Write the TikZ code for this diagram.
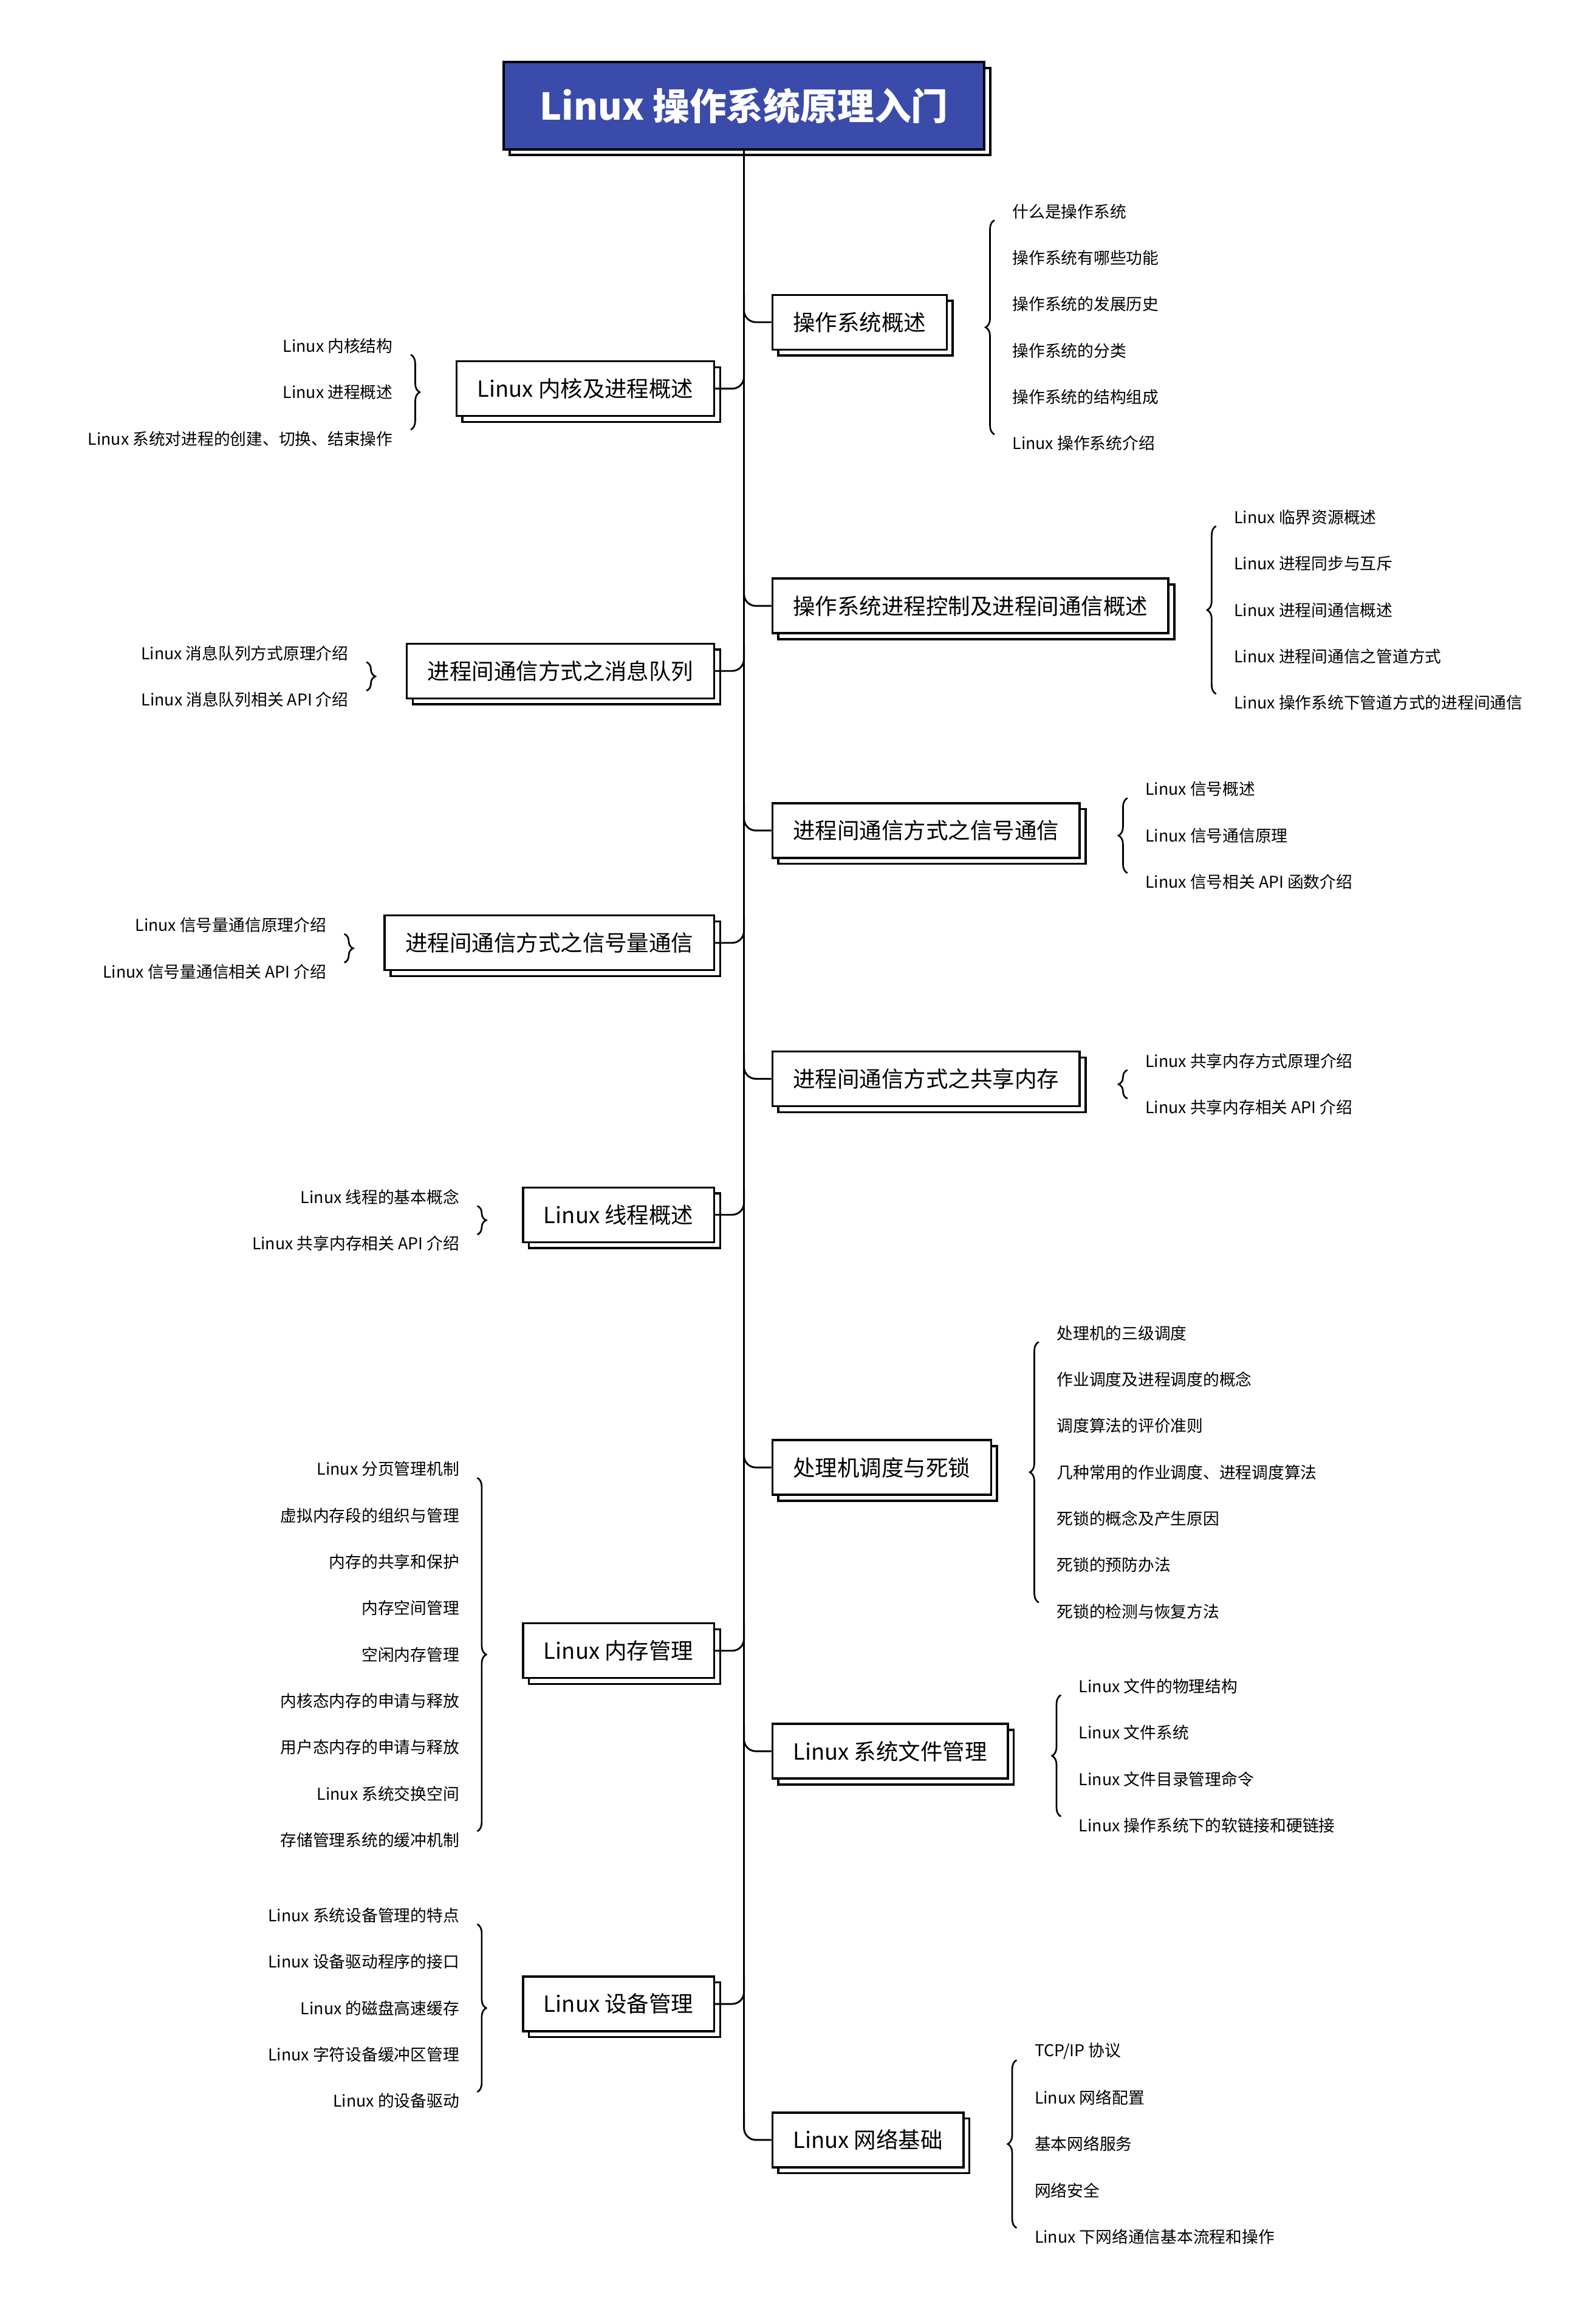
\documentclass[tikz,border=0pt]{standalone}
\usepackage{fontspec}
\setmainfont{Noto Sans CJK SC}
\usetikzlibrary{positioning, shadows, decorations.pathreplacing}
\definecolor{titleblue}{HTML}{3A4BAA}
\tikzset{
  box/.style={draw, line width=1.4pt, fill=white, minimum height=37pt, inner xsep=14pt,
    font=\fontsize{15}{15}\selectfont,
    copy shadow={shadow xshift=4pt, shadow yshift=-4pt, draw, fill=white, line width=1.4pt}},
  leaf/.style={font=\fontsize{11}{11}\selectfont, inner sep=0pt},
  link/.style={line width=1.2pt, rounded corners=8pt},
  lbrace/.style={line width=1.1pt, decorate, decoration={brace, amplitude=6pt}},
  rbrace/.style={line width=1.1pt, decorate, decoration={brace, amplitude=6pt, mirror}}
}
\begin{document}
\begin{tikzpicture}[x=1pt, y=-1pt]
  \useasboundingbox (0,0) rectangle (1080,1555);
  \node[draw, line width=1.6pt, fill=titleblue, text=white, minimum width=325pt, minimum height=59pt,
    font=\fontsize{25}{25}\selectfont\bfseries,
    copy shadow={shadow xshift=4pt, shadow yshift=-4pt, draw, fill=white, line width=1.6pt}]
    (title) at (503.5,71.5) {Linux 操作系统原理入门};

  % right branches
  \node[box, anchor=west] (n1) at (522,218) {操作系统概述};
  \node[box, anchor=west] (n3) at (522,410) {操作系统进程控制及进程间通信概述};
  \node[box, anchor=west] (n5) at (522,562) {进程间通信方式之信号通信};
  \node[box, anchor=west] (n7) at (522,730) {进程间通信方式之共享内存};
  \node[box, anchor=west] (n9) at (522,993) {处理机调度与死锁};
  \node[box, anchor=west] (n11) at (522,1185) {Linux 系统文件管理};
  \node[box, anchor=west] (n13) at (522,1448) {Linux 网络基础};
  % left branches
  \node[box, anchor=east] (n2) at (484,263) {Linux 内核及进程概述};
  \node[box, anchor=east] (n4) at (484,454) {进程间通信方式之消息队列};
  \node[box, anchor=east] (n6) at (484,638) {进程间通信方式之信号量通信};
  \node[box, anchor=east] (n8) at (484,822) {Linux 线程概述};
  \node[box, anchor=east] (n10) at (484,1117) {Linux 内存管理};
  \node[box, anchor=east] (n12) at (484,1356) {Linux 设备管理};

  \draw[line width=1.2pt] (title.south) -- (title.south |- n13.north);
  \foreach \n in {n1,n3,n5,n7,n9,n11,n13}
    \draw[link] (title.south |- \n.north) |- (\n.west);
  \foreach \n in {n2,n4,n6,n8,n10,n12}
    \draw[link] (\n.east) -| (title.south |- \n.north);

  % leaves on the right
  \foreach \t [count=\i] in {什么是操作系统,操作系统有哪些功能,操作系统的发展历史,操作系统的分类,操作系统的结构组成,Linux 操作系统介绍}
    \node[leaf, anchor=west] (a\i) at (685,{143+31.4*(\i-1)}) {\t};
  \draw[rbrace] ([xshift=-12pt,yshift=-6pt]a1.west) -- ([xshift=-12pt,yshift=6pt]a6.west);
  \foreach \t [count=\i] in {Linux 临界资源概述,Linux 进程同步与互斥,Linux 进程间通信概述,Linux 进程间通信之管道方式,Linux 操作系统下管道方式的进程间通信}
    \node[leaf, anchor=west] (c\i) at (835,{350+31.4*(\i-1)}) {\t};
  \draw[rbrace] ([xshift=-12pt,yshift=-6pt]c1.west) -- ([xshift=-12pt,yshift=6pt]c5.west);
  \foreach \t [count=\i] in {Linux 信号概述,Linux 信号通信原理,Linux 信号相关 API 函数介绍}
    \node[leaf, anchor=west] (e\i) at (775,{534+31.4*(\i-1)}) {\t};
  \draw[rbrace] ([xshift=-12pt,yshift=-6pt]e1.west) -- ([xshift=-12pt,yshift=6pt]e3.west);
  \foreach \t [count=\i] in {Linux 共享内存方式原理介绍,Linux 共享内存相关 API 介绍}
    \node[leaf, anchor=west] (g\i) at (775,{718+31.4*(\i-1)}) {\t};
  \draw[rbrace] ([xshift=-12pt,yshift=-6pt]g1.west) -- ([xshift=-12pt,yshift=6pt]g2.west);
  \foreach \t [count=\i] in {处理机的三级调度,作业调度及进程调度的概念,调度算法的评价准则,几种常用的作业调度、进程调度算法,死锁的概念及产生原因,死锁的预防办法,死锁的检测与恢复方法}
    \node[leaf, anchor=west] (i\i) at (715,{902+31.4*(\i-1)}) {\t};
  \draw[rbrace] ([xshift=-12pt,yshift=-6pt]i1.west) -- ([xshift=-12pt,yshift=6pt]i7.west);
  \foreach \t [count=\i] in {Linux 文件的物理结构,Linux 文件系统,Linux 文件目录管理命令,Linux 操作系统下的软链接和硬链接}
    \node[leaf, anchor=west] (k\i) at (730,{1141+31.4*(\i-1)}) {\t};
  \draw[rbrace] ([xshift=-12pt,yshift=-6pt]k1.west) -- ([xshift=-12pt,yshift=6pt]k4.west);
  \foreach \t [count=\i] in {TCP/IP 协议,Linux 网络配置,基本网络服务,网络安全,Linux 下网络通信基本流程和操作}
    \node[leaf, anchor=west] (m\i) at (700,{1388+31.4*(\i-1)}) {\t};
  \draw[rbrace] ([xshift=-12pt,yshift=-6pt]m1.west) -- ([xshift=-12pt,yshift=6pt]m5.west);

  % leaves on the left
  \foreach \t [count=\i] in {Linux 内核结构,Linux 进程概述,Linux 系统对进程的创建、切换、结束操作}
    \node[leaf, anchor=east] (b\i) at (266,{234+31.4*(\i-1)}) {\t};
  \draw[lbrace] ([xshift=12pt,yshift=-6pt]b1.east) -- ([xshift=12pt,yshift=6pt]b3.east);
  \foreach \t [count=\i] in {Linux 消息队列方式原理介绍,Linux 消息队列相关 API 介绍}
    \node[leaf, anchor=east] (d\i) at (236,{442+31.4*(\i-1)}) {\t};
  \draw[lbrace] ([xshift=12pt,yshift=-6pt]d1.east) -- ([xshift=12pt,yshift=6pt]d2.east);
  \foreach \t [count=\i] in {Linux 信号量通信原理介绍,Linux 信号量通信相关 API 介绍}
    \node[leaf, anchor=east] (f\i) at (221,{626+31.4*(\i-1)}) {\t};
  \draw[lbrace] ([xshift=12pt,yshift=-6pt]f1.east) -- ([xshift=12pt,yshift=6pt]f2.east);
  \foreach \t [count=\i] in {Linux 线程的基本概念,Linux 共享内存相关 API 介绍}
    \node[leaf, anchor=east] (h\i) at (311,{810+31.4*(\i-1)}) {\t};
  \draw[lbrace] ([xshift=12pt,yshift=-6pt]h1.east) -- ([xshift=12pt,yshift=6pt]h2.east);
  \foreach \t [count=\i] in {Linux 分页管理机制,虚拟内存段的组织与管理,内存的共享和保护,内存空间管理,空闲内存管理,内核态内存的申请与释放,用户态内存的申请与释放,Linux 系统交换空间,存储管理系统的缓冲机制}
    \node[leaf, anchor=east] (j\i) at (311,{994+31.4*(\i-1)}) {\t};
  \draw[lbrace] ([xshift=12pt,yshift=-6pt]j1.east) -- ([xshift=12pt,yshift=6pt]j9.east);
  \foreach \t [count=\i] in {Linux 系统设备管理的特点,Linux 设备驱动程序的接口,Linux 的磁盘高速缓存,Linux 字符设备缓冲区管理,Linux 的设备驱动}
    \node[leaf, anchor=east] (l\i) at (311,{1296+31.4*(\i-1)}) {\t};
  \draw[lbrace] ([xshift=12pt,yshift=-6pt]l1.east) -- ([xshift=12pt,yshift=6pt]l5.east);
\end{tikzpicture}
\end{document}
